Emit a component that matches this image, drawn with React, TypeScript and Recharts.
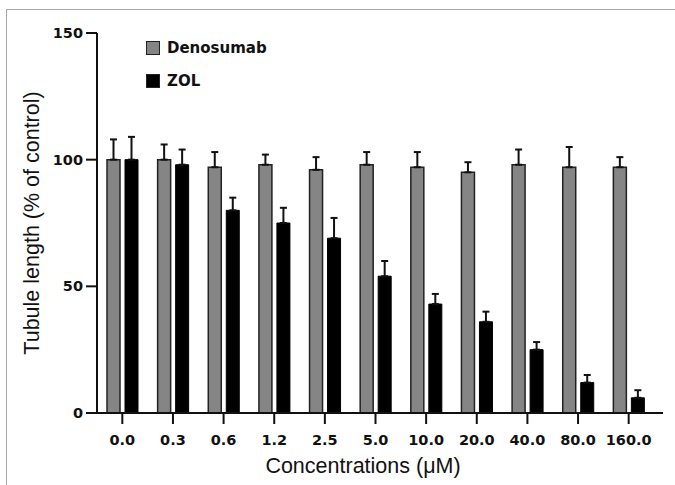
import {
  Bar,
  BarChart,
  ErrorBar,
  Label,
  XAxis,
  YAxis,
} from "recharts";

const concentrations = ["0.0", "0.3", "0.6", "1.2", "2.5", "5.0", "10.0", "20.0", "40.0", "80.0", "160.0"];
const denosumab = [100, 100, 97, 98, 96, 98, 97, 95, 98, 97, 97];
const denosumabErr = [8, 6, 6, 4, 5, 5, 6, 4, 6, 8, 4];
const zol = [100, 98, 80, 75, 69, 54, 43, 36, 25, 12, 6];
const zolErr = [9, 6, 5, 6, 8, 6, 4, 4, 3, 3, 3];
const yTicks = [0, 50, 100, 150];

const data = concentrations.map((conc, i) => ({
  conc,
  denosumab: denosumab[i],
  denosumabErr: [0, denosumabErr[i]],
  zol: zol[i],
  zolErr: [0, zolErr[i]],
}));

const GRAY = "#858585";
const INK = "#111";
const boldTick = {
  fontFamily: "'DejaVu Sans', sans-serif",
  fontWeight: 700,
  fontSize: 14.5,
  fill: INK,
};
const titleFont = "'Liberation Sans', Arial, sans-serif";

const legendItems = [
  { name: "Denosumab", color: GRAY },
  { name: "ZOL", color: "#000" },
];

// drawn as plain html: a recharts <Legend> aligned left eats into the plot width
function ChartLegend() {
  return (
    <div style={{ position: "absolute", left: 146, top: 31 }}>
      {legendItems.map((it) => (
        <div
          key={it.name}
          style={{ display: "flex", alignItems: "center", height: 33 }}
        >
          <span
            style={{
              width: 12,
              height: 12,
              background: it.color,
              border: "1.5px solid #222",
              marginRight: 7,
            }}
          />
          <span
            style={{
              fontFamily: "'DejaVu Sans', sans-serif",
              fontWeight: 700,
              fontSize: 15,
              color: INK,
            }}
          >
            {it.name}
          </span>
        </div>
      ))}
    </div>
  );
}

export default function App() {
  return (
    <div
      style={{
        position: "fixed",
        left: 0,
        top: 0,
        width: 675,
        height: 485,
        background: "#fff",
      }}
    >
      <div
        style={{
          position: "absolute",
          left: 6,
          top: 9,
          right: 0,
          bottom: 0,
          borderTop: "1.5px solid #a8a8a8",
          borderLeft: "1.5px solid #a8a8a8",
        }}
      />
      <BarChart
        width={675}
        height={485}
        data={data}
        margin={{ top: 33, right: 12, bottom: 32, left: 0 }}
        barSize={13}
        barGap={5}
        style={{ position: "absolute", left: 0, top: 0 }}
      >
        <XAxis
          dataKey="conc"
          interval={0}
          height={40}
          padding={{ left: 0, right: 9 }}
          tickSize={11}
          tickMargin={11}
          tick={boldTick}
          axisLine={{ stroke: INK, strokeWidth: 2 }}
          tickLine={{ stroke: INK, strokeWidth: 2 }}
        >
          <Label
            content={({ viewBox }: any) => (
              <text
                x={viewBox.x + viewBox.width / 2 - 17}
                y={viewBox.y + 60}
                textAnchor="middle"
                fontFamily={titleFont}
                fontSize={21.5}
                fill={INK}
              >
                Concentrations (μM)
              </text>
            )}
          />
        </XAxis>
        <YAxis
          width={97}
          domain={[0, 150]}
          ticks={yTicks}
          interval={0}
          tickSize={11}
          tickMargin={3}
          tick={boldTick}
          axisLine={{ stroke: INK, strokeWidth: 2 }}
          tickLine={{ stroke: INK, strokeWidth: 2 }}
        >
          <Label
            content={({ viewBox }: any) => {
              const cx = 32;
              const cy = viewBox.y + viewBox.height / 2;
              return (
                <text
                  x={cx}
                  y={cy}
                  transform={`rotate(-90 ${cx} ${cy})`}
                  textAnchor="middle"
                  dominantBaseline="central"
                  fontFamily={titleFont}
                  fontSize={21.5}
                  fill={INK}
                >
                  Tubule length (% of control)
                </text>
              );
            }}
          />
        </YAxis>
        <Bar
          dataKey="denosumab"
          name="Denosumab"
          fill={GRAY}
          stroke="#222"
          strokeWidth={1.5}
          isAnimationActive={false}
        >
          <ErrorBar
            dataKey="denosumabErr"
            direction="y"
            width={3.5}
            stroke={INK}
            strokeWidth={2}
          />
        </Bar>
        <Bar
          dataKey="zol"
          name="ZOL"
          fill="#000"
          stroke="#000"
          strokeWidth={1}
          isAnimationActive={false}
        >
          <ErrorBar
            dataKey="zolErr"
            direction="y"
            width={3.5}
            stroke={INK}
            strokeWidth={2}
          />
        </Bar>
      </BarChart>
      <ChartLegend />
    </div>
  );
}
